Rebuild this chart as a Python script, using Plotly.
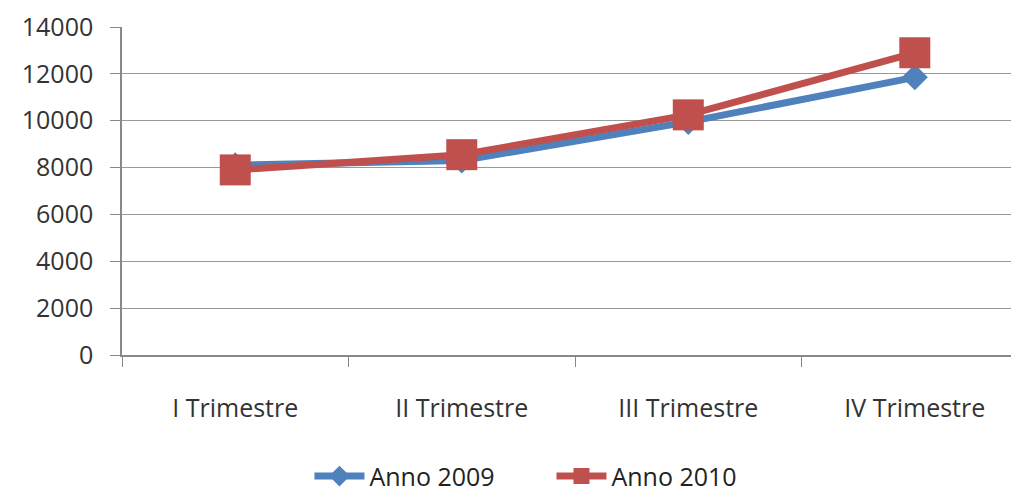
import plotly.graph_objects as go

# dati
trimestri = ["I Trimestre", "II Trimestre", "III Trimestre", "IV Trimestre"]
anno_2009 = [8100, 8300, 9950, 11850]
anno_2010 = [7900, 8550, 10250, 12900]

BLUE = "#4F81BD"
RED = "#C0504D"
FONT = "Open Sans"

fig = go.Figure()
fig.add_trace(go.Scatter(
    x=trimestri, y=anno_2009, name="Anno 2009", mode="lines+markers",
    line=dict(color=BLUE, width=7),
    marker=dict(symbol="diamond", size=20, color=BLUE),
))
fig.add_trace(go.Scatter(
    x=trimestri, y=anno_2010, name="Anno 2010", mode="lines+markers",
    line=dict(color=RED, width=7),
    marker=dict(symbol="square", size=31, color=RED),
))

# la pagina ha 8px di margine nel body: figura un po' più piccola
fig.update_layout(
    width=1011, height=486,
    margin=dict(l=114, r=0, t=19, b=139, autoexpand=False),
    paper_bgcolor="white", plot_bgcolor="white",
    font=dict(family=FONT, size=25, color="#333333"),
    legend=dict(orientation="h", x=0.209, xanchor="left", y=-0.37, yanchor="middle",
                font=dict(size=25, color="#222222"), entrywidth=177, entrywidthmode="pixels",
                itemwidth=50),
    showlegend=True,
)
fig.update_xaxes(
    type="category", range=[-0.5, 3.46], automargin=False,
    showline=True, linecolor="#888888", linewidth=1.5,
    ticks="outside", tickson="boundaries", ticklen=10, tickcolor="#888888",
    ticklabelstandoff=30, showgrid=False,
)
fig.update_yaxes(
    range=[0, 14000], dtick=2000, tickformat="d", automargin=False,
    showgrid=True, gridcolor="#999999", gridwidth=1,
    showline=True, linecolor="#888888", linewidth=1.5,
    ticks="outside", ticklen=10, tickcolor="#888888",
    zeroline=False, ticklabelstandoff=12,
)

fig.write_html("out.html")
